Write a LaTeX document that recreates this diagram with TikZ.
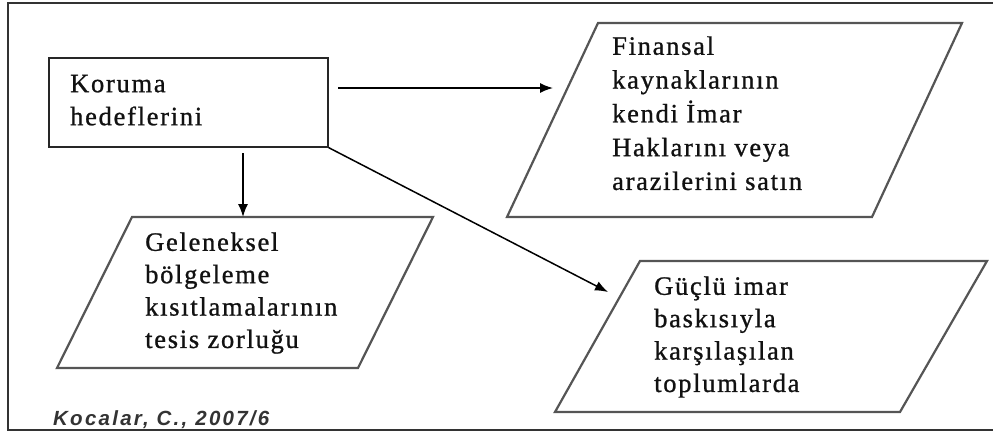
\documentclass[tikz,border=0pt]{standalone}
\usepackage{fontspec}
\setmainfont{Liberation Serif}[LetterSpace=6.5, FakeBold=0.9]
\newfontfamily\creditfont{Liberation Sans}[LetterSpace=11]
\usetikzlibrary{arrows.meta}
\definecolor{inkgray}{HTML}{111111}
\definecolor{edgegray}{HTML}{555555}
\tikzset{
  frameline/.style={draw=black!80, line width=2pt},
  goalbox/.style={draw=black!85, line width=1.6pt},
  databox/.style={draw=edgegray, line width=2.2pt, line join=miter},
  boxtext/.style={anchor=north west, inner sep=0pt, align=left, text=inkgray,
    font=\fontsize{26.5}{33}\selectfont},
  arr/.style={draw=black, line width=1.5pt, -{Latex[length=13pt,width=10pt]}},
}
\begin{document}
\begin{tikzpicture}[x=1pt,y=-1pt]
  \useasboundingbox (0,0) rectangle (993,434);
  % outer frame (right side runs past the page edge)
  \begin{scope}
    \clip (0,0) rectangle (993,434);
    \draw[frameline] (8,3) rectangle (1010,430);
  \end{scope}

  % goal rectangle
  \node[goalbox, minimum width=279pt, minimum height=89pt, inner sep=0pt, anchor=north west]
    (koruma) at (48,57) {};
  \node[boxtext] (korumatext) at (70,68.9) {\strut Koruma\\hedeflerini};

  % parallelogram: financial resources
  \coordinate (fA) at (598,23);
  \coordinate (fB) at (962,23);
  \coordinate (fC) at (872,217);
  \coordinate (fD) at (507,217);
  \draw[databox, fill=white] (fA) -- (fB) -- (fC) -- (fD) -- cycle;
  \node[boxtext, font=\fontsize{26.5}{33.8}\selectfont] (finans) at (612,30.9)
    {\strut Finansal\\kaynaklarının\\kendi İmar\\Haklarını veya\\arazilerini satın};

  % parallelogram: traditional zoning
  \coordinate (gA) at (132,217);
  \coordinate (gB) at (433,217);
  \coordinate (gC) at (358,368);
  \coordinate (gD) at (57,368);
  \draw[databox, fill=white] (gA) -- (gB) -- (gC) -- (gD) -- cycle;
  \node[boxtext, font=\fontsize{26.5}{32.4}\selectfont] (gelenek) at (145,227.9)
    {\strut Geleneksel\\bölgeleme\\kısıtlamalarının\\tesis zorluğu};

  % parallelogram: strong development pressure
  \coordinate (pA) at (640,261);
  \coordinate (pB) at (987,261);
  \coordinate (pC) at (900,412);
  \coordinate (pD) at (555,412);
  \draw[databox, fill=white] (pA) -- (pB) -- (pC) -- (pD) -- cycle;
  \node[boxtext, font=\fontsize{26.5}{32.4}\selectfont] (baski) at (654,271.9)
    {\strut Güçlü imar\\baskısıyla\\karşılaşılan\\toplumlarda};

  % connectors
  \coordinate (h1) at (338,88);
  \coordinate (h2) at (553,88);
  \coordinate (v1) at (243,153);
  \coordinate (v2) at (243,217);
  \coordinate (d2) at (608,292);
  \draw[arr] (h1) -- (h2);
  \draw[arr] (v1) -- (v2);
  \draw[arr] (koruma.south east) -- (d2);

  % source line
  \node[anchor=base west, inner sep=0pt, text=black!80,
        font=\creditfont\bfseries\itshape\fontsize{20.5}{24}\selectfont]
    (kaynak) at (53,425) {Kocalar, C., 2007/6};
\end{tikzpicture}
\end{document}
